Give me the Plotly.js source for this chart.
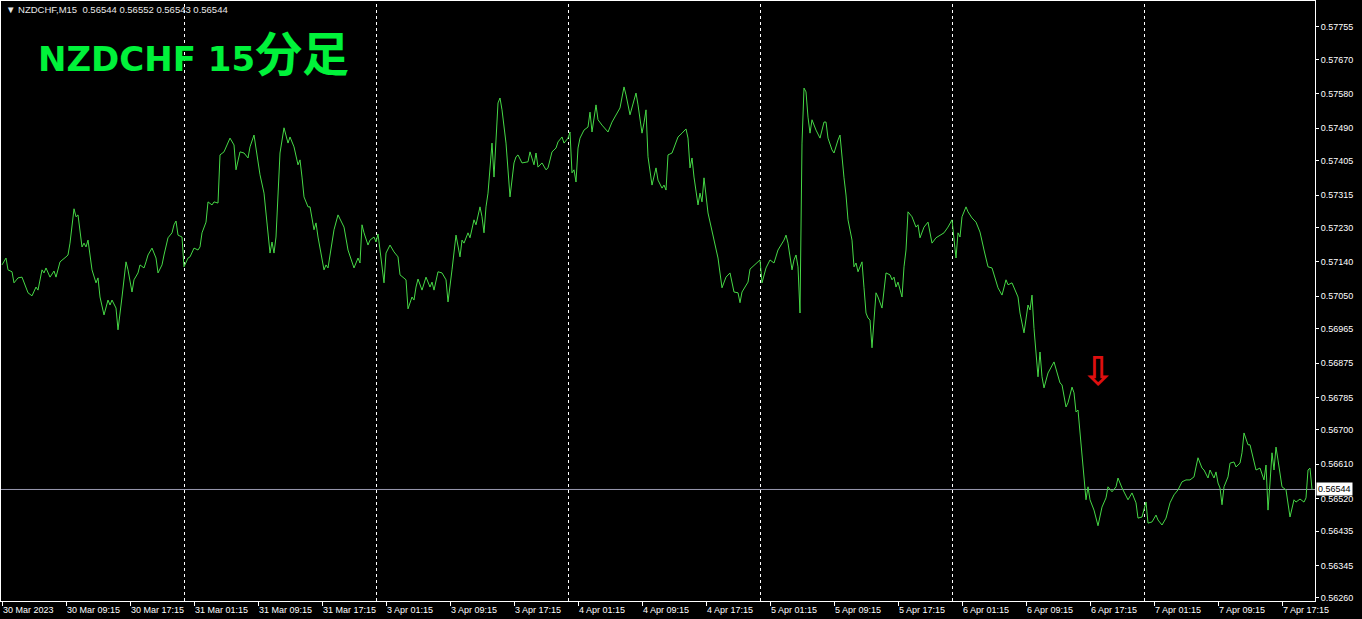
<!DOCTYPE html>
<html>
<head>
<meta charset="utf-8">
<script src="https://cdn.plot.ly/plotly-3.0.1.min.js"></script>
<style>
html,body{margin:0;padding:0;background:#000;}
#chart{width:1362px;height:619px;}
</style>
</head>
<body>
<div id="chart"></div>
<script>
// ---- data (M15 bars, index 0 = 30 Mar 2023 01:15) ----
const symbol = "NZDCHF,M15";
const ohlc = [0.56544, 0.56552, 0.56543, 0.56544];
const chartTitle = "NZDCHF 15";
const chartTitleCJK = "分足";

const bars = [0,2,3,5,6,8,10,12,13,15,17,18,20,21,22,24,26,27,29,32,33,34,36,37,38,40,41,42,43,45,47,48,49,51,53,54,55,57,58,60,62,63,65,66,68,69,71,72,73,75,77,78,80,81,83,85,86,87,88,90,91,93,94,96,98,99,100,102,103,105,106,108,109,111,114,116,117,119,121,123,124,126,127,129,131,133,134,135,136,137,138,139,141,142,143,144,146,148,149,150,151,153,154,156,157,158,161,162,163,166,168,171,173,176,178,179,180,181,183,184,186,187,188,189,191,192,194,196,198,199,202,203,205,206,207,208,210,212,214,215,216,218,220,222,223,225,227,229,230,231,233,234,236,237,239,240,241,242,243,245,246,247,248,249,250,252,253,254,256,257,258,260,263,264,266,267,268,270,272,273,275,277,278,280,281,283,284,285,286,287,288,289,291,293,294,295,297,298,300,303,305,307,309,311,312,314,315,317,318,320,321,322,323,324,325,327,328,330,331,332,333,335,337,338,340,342,343,344,345,346,348,349,350,351,353,355,357,358,360,362,364,366,368,369,370,373,374,377,379,380,382,384,386,388,389,391,392,393,395,396,397,398,399,400,401,402,403,404,405,407,409,411,412,413,415,416,418,419,421,422,423,425,426,427,428,430,431,432,433,434,435,437,438,440,442,444,445,446,447,448,450,451,452,453,455,457,458,459,461,463,465,467,471,473,475,476,477,478,479,480,482,483,485,487,489,491,493,495,498,500,502,503,505,508,509,511,513,514,515,516,517,518,519,520,521,523,526,527,529,530,532,533,535,536,537,538,539,540,541,542,543,544,546,548,550,552,553,555,557,558,560,563,565,567,568,570,572,573,575,577,578,580,582,584,586,588,590,592,594,596,597,598,600,601,603,604,606,607,608,609,610,611,613,614,616,617,619,620,621,623,624,626,627,629,631,632,633,634,635,636,637,638,640,642,643,644,646,647,649,651,652,653,654,655];

const prices = [0.57132,0.57150,0.57119,0.57114,0.57085,0.57098,0.57100,0.57072,0.57059,0.57051,0.57074,0.57066,0.57119,0.57111,0.57124,0.57100,0.57116,0.57100,0.57140,0.57153,0.57158,0.57189,0.57279,0.57258,0.57263,0.57179,0.57189,0.57179,0.57197,0.57119,0.57085,0.57098,0.57048,0.57001,0.57040,0.57027,0.57040,0.57019,0.56962,0.57048,0.57140,0.57119,0.57061,0.57093,0.57111,0.57132,0.57124,0.57140,0.57158,0.57176,0.57150,0.57111,0.57132,0.57158,0.57203,0.57216,0.57237,0.57247,0.57210,0.57205,0.57127,0.57150,0.57153,0.57176,0.57171,0.57179,0.57216,0.57244,0.57297,0.57289,0.57297,0.57294,0.57420,0.57428,0.57464,0.57446,0.57381,0.57428,0.57425,0.57412,0.57441,0.57472,0.57441,0.57368,0.57320,0.57205,0.57163,0.57192,0.57163,0.57205,0.57302,0.57425,0.57491,0.57467,0.57451,0.57467,0.57441,0.57394,0.57407,0.57362,0.57310,0.57284,0.57284,0.57224,0.57242,0.57205,0.57119,0.57132,0.57124,0.57224,0.57263,0.57231,0.57171,0.57124,0.57150,0.57137,0.57237,0.57216,0.57184,0.57197,0.57205,0.57192,0.57213,0.57171,0.57085,0.57163,0.57184,0.57166,0.57153,0.57106,0.57093,0.57017,0.57048,0.57040,0.57074,0.57095,0.57066,0.57100,0.57074,0.57087,0.57066,0.57114,0.57111,0.57093,0.57035,0.57119,0.57210,0.57153,0.57197,0.57189,0.57216,0.57203,0.57250,0.57237,0.57284,0.57258,0.57216,0.57284,0.57320,0.57451,0.57362,0.57459,0.57556,0.57569,0.57538,0.57451,0.57388,0.57310,0.57399,0.57415,0.57420,0.57399,0.57402,0.57428,0.57394,0.57425,0.57388,0.57399,0.57381,0.57386,0.57428,0.57438,0.57454,0.57467,0.57451,0.57464,0.57480,0.57373,0.57381,0.57349,0.57438,0.57464,0.57485,0.57493,0.57532,0.57480,0.57551,0.57512,0.57498,0.57480,0.57506,0.57525,0.57543,0.57598,0.57577,0.57525,0.57543,0.57582,0.57551,0.57477,0.57504,0.57538,0.57415,0.57381,0.57341,0.57386,0.57354,0.57333,0.57341,0.57328,0.57420,0.57425,0.57454,0.57467,0.57477,0.57488,0.57464,0.57386,0.57412,0.57362,0.57289,0.57320,0.57297,0.57360,0.57268,0.57224,0.57176,0.57150,0.57072,0.57100,0.57111,0.57061,0.57059,0.57033,0.57061,0.57087,0.57121,0.57137,0.57145,0.57085,0.57124,0.57145,0.57137,0.57171,0.57179,0.57197,0.57210,0.57189,0.57119,0.57145,0.57158,0.57127,0.57006,0.57451,0.57595,0.57585,0.57519,0.57477,0.57512,0.57485,0.57464,0.57506,0.57506,0.57464,0.57433,0.57425,0.57459,0.57472,0.57360,0.57315,0.57250,0.57197,0.57127,0.57137,0.57114,0.57140,0.57072,0.57006,0.56993,0.56988,0.56915,0.57059,0.57048,0.57019,0.57111,0.57106,0.57093,0.57100,0.57074,0.57087,0.57048,0.57127,0.57171,0.57271,0.57258,0.57231,0.57237,0.57203,0.57231,0.57244,0.57189,0.57203,0.57216,0.57231,0.57250,0.57189,0.57150,0.57216,0.57205,0.57258,0.57284,0.57271,0.57255,0.57244,0.57218,0.57171,0.57127,0.57124,0.57072,0.57053,0.57093,0.57080,0.57085,0.57048,0.57006,0.56954,0.57027,0.57014,0.57053,0.56965,0.56891,0.56839,0.56904,0.56839,0.56810,0.56849,0.56878,0.56857,0.56823,0.56818,0.56760,0.56771,0.56812,0.56797,0.56747,0.56752,0.56692,0.56616,0.56561,0.56517,0.56551,0.56517,0.56490,0.56449,0.56498,0.56522,0.56551,0.56538,0.56551,0.56574,0.56548,0.56517,0.56535,0.56509,0.56469,0.56472,0.56511,0.56456,0.56459,0.56477,0.56464,0.56451,0.56469,0.56509,0.56530,0.56543,0.56564,0.56569,0.56569,0.56577,0.56603,0.56627,0.56600,0.56595,0.56574,0.56595,0.56574,0.56590,0.56561,0.56548,0.56504,0.56551,0.56577,0.56613,0.56616,0.56603,0.56613,0.56640,0.56692,0.56661,0.56661,0.56621,0.56595,0.56600,0.56569,0.56608,0.56490,0.56561,0.56640,0.56595,0.56655,0.56621,0.56551,0.56543,0.56504,0.56472,0.56517,0.56511,0.56519,0.56511,0.56522,0.56595,0.56600,0.56544];

const timeTickBars = [0,32,64,96,128,160,192,224,256,288,320,352,384,416,448,480,512,544,576,608,640];
const timeTickLabels = ["30 Mar 2023","30 Mar 09:15","30 Mar 17:15","31 Mar 01:15","31 Mar 09:15","31 Mar 17:15","3 Apr 01:15","3 Apr 09:15","3 Apr 17:15","4 Apr 01:15","4 Apr 09:15","4 Apr 17:15","5 Apr 01:15","5 Apr 09:15","5 Apr 17:15","6 Apr 01:15","6 Apr 09:15","6 Apr 17:15","7 Apr 01:15","7 Apr 09:15","7 Apr 17:15"];
const dayStartBars = [91,187,283,379,475,571];
const priceTicks = [0.57755,0.57670,0.57580,0.57490,0.57405,0.57315,0.57230,0.57140,0.57050,0.56965,0.56875,0.56785,0.56700,0.56610,0.56520,0.56435,0.56345,0.56260];
const lastPrice = 0.56544;
const arrowBar = 548;
const arrowPrice = 0.56855;

const axisFont = {family: "Liberation Sans, Arial, sans-serif", size: 9, color: "#ffffff"};

// half-bar nudge so 1px separators land on whole pixels
const sepNudge = 0.25;
const shapes = dayStartBars.map(b => ({
  type: "line", xref: "x", yref: "paper", x0: b + sepNudge, x1: b + sepNudge, y0: 0, y1: 1,
  line: {color: "#ffffff", width: 1, dash: "3px,3px"}, layer: "below"
}));
shapes.push({
  type: "line", xref: "paper", yref: "y", x0: 0, x1: 1, y0: lastPrice, y1: lastPrice,
  line: {color: "#9a9ab0", width: 1}, layer: "below"
});

const data = [{
  type: "scatter", mode: "lines", x: bars, y: prices,
  line: {color: "#46d846", width: 1}, hoverinfo: "skip", showlegend: false
}];

const layout = {
  width: 1362, height: 619,
  margin: {l: 1, r: 47, t: 1, b: 18, pad: 0},
  paper_bgcolor: "#000000", plot_bgcolor: "#000000",
  showlegend: false,
  xaxis: {
    range: [-0.5, 656.5], showgrid: false, zeroline: false,
    showline: true, linecolor: "#ffffff", linewidth: 1, mirror: true,
    tickmode: "array", tickvals: timeTickBars, ticktext: timeTickLabels,
    ticks: "outside", ticklen: 4, tickcolor: "#ffffff", tickwidth: 1,
    ticklabelposition: "outside right",
    tickfont: axisFont, fixedrange: true
  },
  yaxis: {
    side: "right", range: [0.56252, 0.57823], showgrid: false, zeroline: false,
    showline: true, linecolor: "#ffffff", linewidth: 1, mirror: true,
    tickmode: "array", tickvals: priceTicks, tickformat: ".5f",
    ticks: "outside", ticklen: 3, tickcolor: "#ffffff", tickwidth: 1,
    tickfont: axisFont, fixedrange: true
  },
  shapes: shapes,
  annotations: [
    {
      xref: "paper", yref: "paper", x: 0, y: 1, xanchor: "left", yanchor: "top",
      xshift: 3, yshift: -1, showarrow: false,
      text: "▼ " + symbol + "  " + ohlc.map(v => v.toFixed(5)).join(" "),
      font: {family: "Liberation Sans, Arial, sans-serif", size: 9.5, color: "#e8e8e8"}
    },
    {
      xref: "paper", yref: "paper", x: 0.027, y: 0.91, xanchor: "left", yanchor: "middle",
      showarrow: false,
      text: chartTitle + "<span style='font-size:47px'>" + chartTitleCJK + "</span>",
      font: {family: "DejaVu Sans, Noto Sans CJK JP, sans-serif", size: 34, color: "#00f23a", weight: "bold"}
    },
    {
      xref: "x", yref: "y", x: arrowBar, y: arrowPrice, showarrow: false,
      text: "⇩", font: {family: "DejaVu Sans, sans-serif", size: 40, color: "#dd0f0f", weight: "bold"}
    },
    {
      xref: "paper", yref: "y", x: 1, y: lastPrice, xanchor: "left", yanchor: "middle",
      xshift: 1, showarrow: false, text: lastPrice.toFixed(5),
      bgcolor: "#ffffff", borderpad: 1,
      font: {family: "Liberation Sans, Arial, sans-serif", size: 9, color: "#000000"}
    }
  ]
};

Plotly.newPlot("chart", data, layout, {staticPlot: true, displayModeBar: false});
</script>
</body>
</html>
